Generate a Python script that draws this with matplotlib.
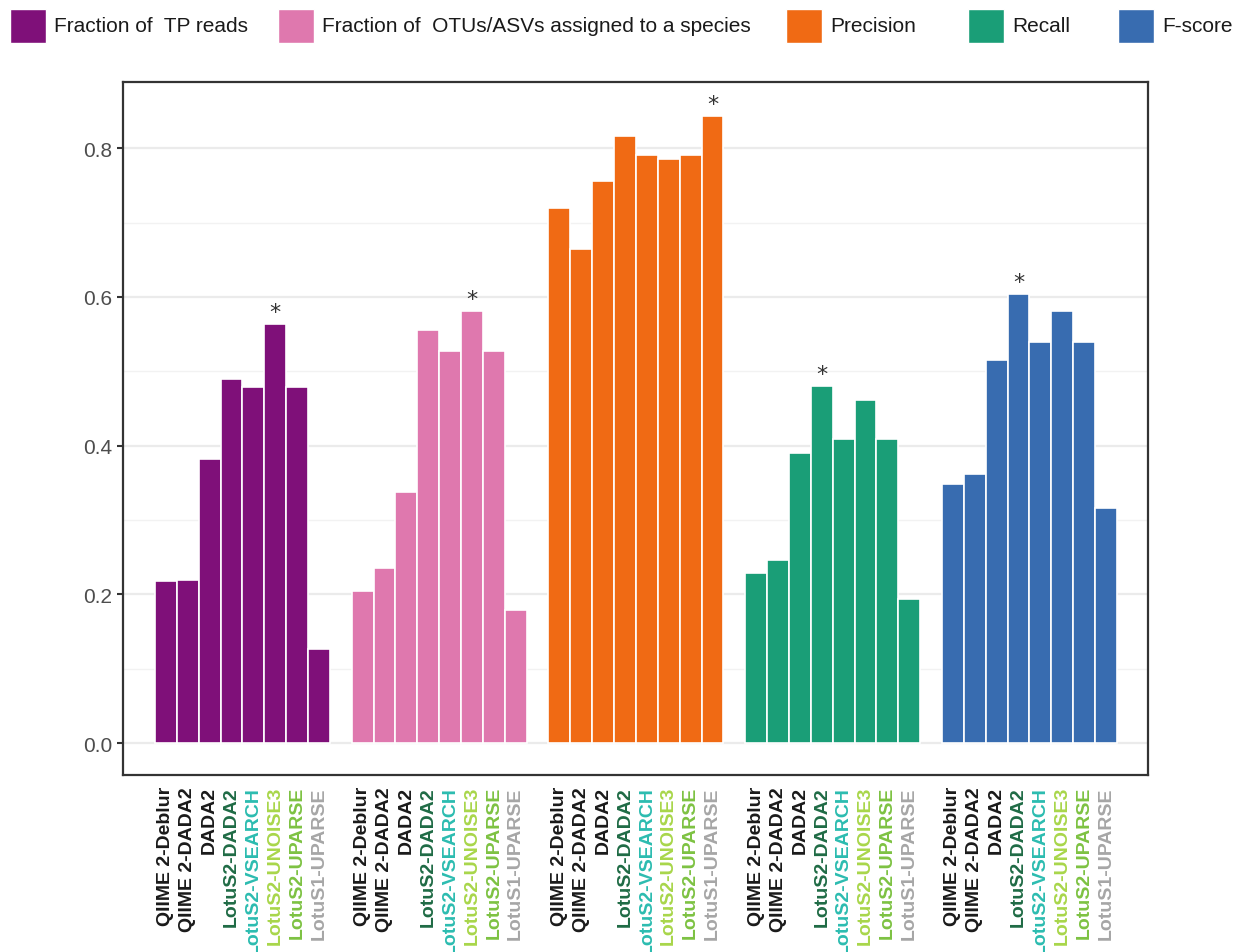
import numpy as np
import matplotlib.pyplot as plt
from matplotlib.patches import Rectangle

# Métriques et pipelines
metrics = ['Fraction of  TP reads', 'Fraction of  OTUs/ASVs assigned to a species',
           'Precision', 'Recall', 'F-score']
metric_colors = ['#7f1079', '#df78ae', '#f06a14', '#1a9e77', '#386cb0']

pipelines = ['QIIME 2-Deblur', 'QIIME 2-DADA2', 'DADA2', 'LotuS2-DADA2',
             'LotuS2-VSEARCH', 'LotuS2-UNOISE3', 'LotuS2-UPARSE', 'LotuS1-UPARSE']
pipeline_colors = ['#1a1a1a', '#1a1a1a', '#1a1a1a', '#1f6b45',
                   '#2cbcb0', '#a8d64a', '#7dc242', '#a6a6a6']

tp_reads = [0.218, 0.219, 0.382, 0.489, 0.479, 0.563, 0.479, 0.126]
otus_species = [0.204, 0.235, 0.337, 0.555, 0.527, 0.581, 0.527, 0.179]
precision = [0.719, 0.664, 0.756, 0.816, 0.791, 0.785, 0.791, 0.843]
recall = [0.229, 0.246, 0.390, 0.480, 0.409, 0.461, 0.409, 0.194]
fscore = [0.348, 0.362, 0.515, 0.604, 0.539, 0.581, 0.539, 0.316]

# meilleur pipeline par métrique (étoile)
best = [5, 5, 7, 3, 3]

values = [tp_reads, otus_species, precision, recall, fscore]

W, H = 1244, 953
fig = plt.figure(figsize=(W / 100, H / 100), dpi=100)
ax = fig.add_axes([123 / W, 1 - 776 / H, 1025 / W, 693 / H])

n = len(pipelines)
labels_pos, labels_txt, labels_col = [], [], []
for g, vals in enumerate(values):
    x = g * (n + 1) + np.arange(n)
    ax.bar(x, vals, width=1.0, color=metric_colors[g], edgecolor='white',
           linewidth=1.2, zorder=2)
    b = best[g]
    ax.text(x[b], vals[b] + 0.003, '*', ha='center', va='bottom',
            fontsize=16, color='#333333', zorder=3)
    labels_pos += list(x)
    labels_txt += pipelines
    labels_col += pipeline_colors

ax.set_xlim(-1.96, 44.92)
ax.set_ylim(-0.043, 0.889)

ax.set_yticks([0.0, 0.2, 0.4, 0.6, 0.8])
ax.set_yticklabels(['0.0', '0.2', '0.4', '0.6', '0.8'], fontsize=15,
                   color='#4d4d4d', family='Liberation Sans')
ax.set_yticks([0.1, 0.3, 0.5, 0.7], minor=True)
ax.grid(axis='y', which='major', color='#ebebeb', linewidth=1.6, zorder=0)
ax.grid(axis='y', which='minor', color='#f2f2f2', linewidth=1.0, zorder=0)
ax.tick_params(axis='y', which='major', length=4, width=1.5, color='#333333', pad=4)
ax.tick_params(axis='y', which='minor', length=0)

ax.set_xticks(labels_pos)
ax.set_xticklabels(labels_txt, rotation=90, fontsize=14, fontweight='bold',
                   family='Liberation Sans', va='top', ha='center')
for lab, c in zip(ax.get_xticklabels(), labels_col):
    lab.set_color(c)
ax.tick_params(axis='x', length=0, pad=8)

for s in ax.spines.values():
    s.set_color('#333333')
    s.set_linewidth(1.6)

# Légende en haut : carrés de couleur + libellés
leg_x = [10, 278, 786, 968, 1118]
for x0, lab, c in zip(leg_x, metrics, metric_colors):
    fig.patches.append(Rectangle((x0 / W, 1 - 44 / H), 36 / W, 34 / H,
                                 transform=fig.transFigure, facecolor=c,
                                 edgecolor='white', linewidth=1))
    fig.text((x0 + 44) / W, 1 - 27 / H, lab, ha='left', va='center',
             fontsize=15, family='Liberation Sans', color='#1a1a1a')

fig.savefig('out.png', dpi=100)
